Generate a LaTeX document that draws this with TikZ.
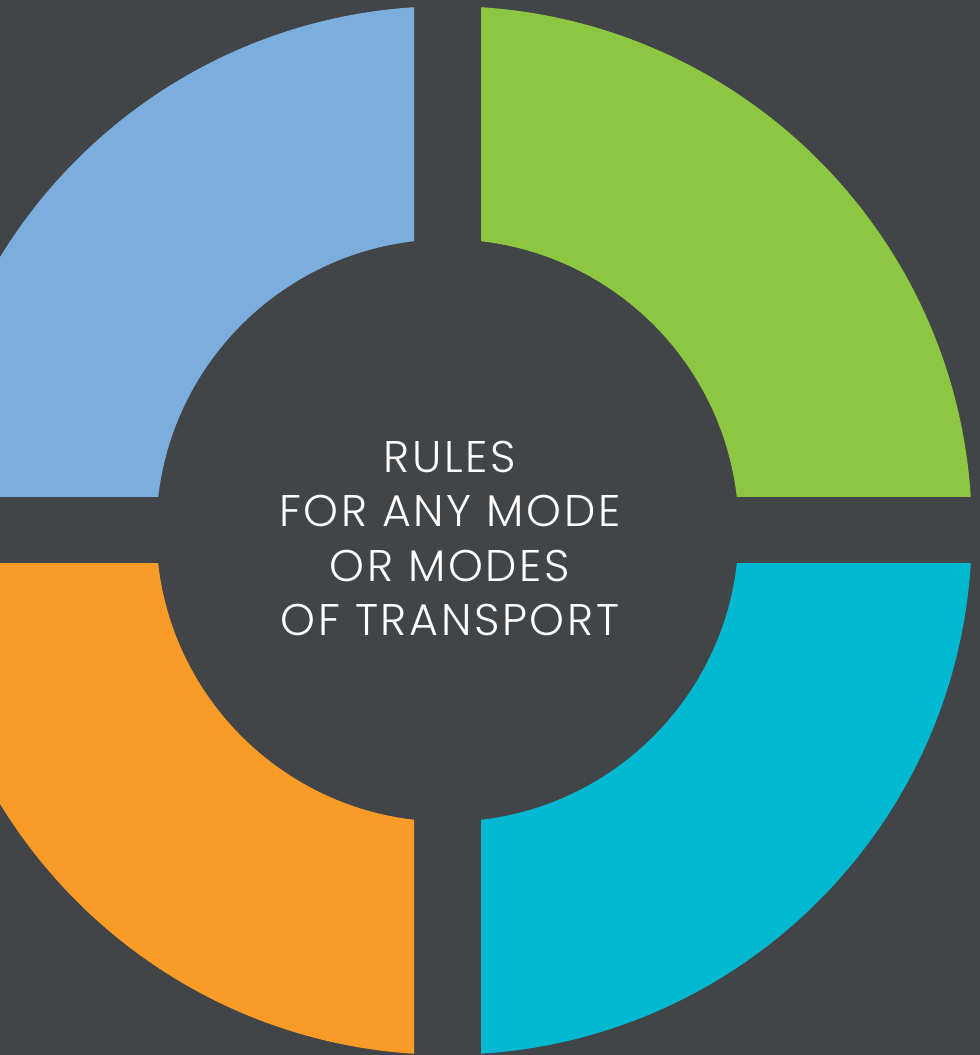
\documentclass[tikz,border=0pt]{standalone}
\usepackage{fontspec}
\setmainfont{Poppins}[UprightFont=* Light, LetterSpace=6]
\definecolor{bgdark}{HTML}{424548}
\definecolor{ringblue}{HTML}{7BAEDD}
\definecolor{ringgreen}{HTML}{8DC641}
\definecolor{ringorange}{HTML}{F89B27}
\definecolor{ringcyan}{HTML}{00B9D1}

\begin{document}
\begin{tikzpicture}[x=0.01cm,y=0.01cm,
    caption/.style={text=white, align=center, inner sep=0pt,
      font=\fontsize{12.6}{15.4}\selectfont}]
\useasboundingbox (-447.5,-524.5) rectangle (532.5,530.5);
\fill[bgdark] (-447.5,-524.5) rectangle (532.5,530.5);
\clip (-447.5,-524.5) rectangle (532.5,530.5);

% four quarters of the ring
\foreach \sx/\sy/\col in {-1/1/ringblue, 1/1/ringgreen, -1/-1/ringorange, 1/-1/ringcyan}{
  \begin{scope}
    \clip (\sx*33.5,\sy*33.5) rectangle (\sx*600,\sy*600);
    \fill[\col, even odd rule] (0,0) circle[radius=5.24cm] (0,0) circle[radius=2.91cm];
  \end{scope}
}

\node[caption] (rules) at (2.5,-8) {RULES\\FOR ANY MODE\\OR MODES\\OF TRANSPORT};
\end{tikzpicture}
\end{document}
